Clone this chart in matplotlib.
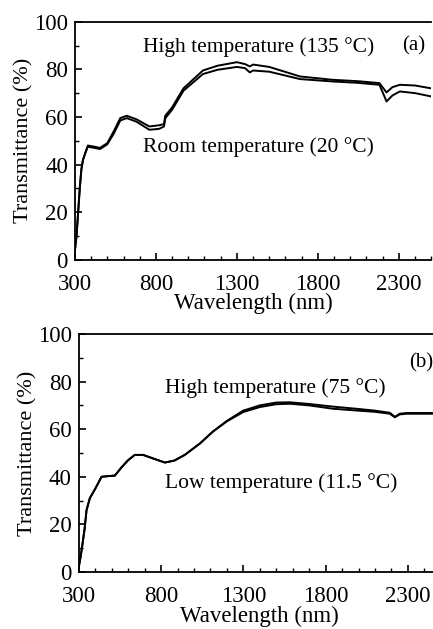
import matplotlib
matplotlib.use("AGG")
import matplotlib.pyplot as plt
from matplotlib.ticker import MultipleLocator

plt.rcParams["font.family"] = ["Liberation Serif", "DejaVu Serif"]

# panel (a): 135 C vs 20 C
wl_a = [300, 310, 320, 330, 340, 350, 365, 380, 420, 455, 500, 540, 580, 620, 680,
        760, 820, 850, 858, 900, 970, 1090, 1180, 1300, 1350, 1380, 1400,
        1500, 1690, 1890, 2050, 2180, 2224, 2260, 2306, 2400, 2500]
high_a = [4, 10, 20, 30, 38, 42, 45, 48, 47.5, 47, 49, 54, 59.5, 60.5, 59,
          56, 56.5, 57, 60.5, 64, 72, 79.5, 81.5, 83, 82.2, 81.2, 82,
          81, 77, 75.6, 75, 74.2, 70.3, 72.5, 73.5, 73.2, 72]
room_a = [4, 10, 20, 30, 38, 42, 45, 47.5, 47, 46.5, 48.5, 53, 58.5, 59.5, 58,
          54.6, 55, 56, 59.5, 63, 71, 78, 79.8, 81, 80.5, 78.7, 79.5,
          79, 75.9, 74.9, 74.3, 73.5, 66.5, 69, 70.7, 70, 68.6]

# panel (b): 75 C vs 11.5 C
wl_b = [300, 310, 320, 335, 347, 367, 400, 438, 480, 519, 560, 600, 640, 691,
        760, 823, 880, 944, 1036, 1115, 1200, 1299, 1400, 1500, 1583, 1700,
        1844, 2000, 2100, 2190, 2221, 2250, 2292, 2400, 2500]
high_b = [2.2, 6, 10.6, 18, 26, 31, 35, 40, 40.3, 40.5, 44, 47, 49.2, 49.2,
          47.5, 46, 46.8, 49.2, 54, 59, 63.5, 67.8, 70, 71.2, 71.3, 70.6,
          69.5, 68.5, 67.8, 66.9, 65.2, 66.5, 66.8, 66.8, 66.8]
low_b = [2.2, 6, 10.6, 18, 26, 31, 35, 40, 40.3, 40.5, 44, 47, 49.2, 49.2,
         47.5, 46, 46.8, 49.2, 54, 59, 63.3, 67.2, 69.3, 70.5, 70.7, 70,
         68.6, 67.8, 67.3, 66.5, 65, 66.2, 66.5, 66.5, 66.5]

fig = plt.figure(figsize=(4.33, 6.29), dpi=100)
ax_a = fig.add_axes([0.173, 0.587, 0.823, 0.3785])
ax_b = fig.add_axes([0.182, 0.0906, 0.836, 0.3784])

for ax in (ax_a, ax_b):
    ax.set_xlim(300, 2500)
    ax.set_ylim(0, 100)
    ax.set_xticks([300, 800, 1300, 1800, 2300])
    ax.set_yticks([0, 20, 40, 60, 80, 100])
    ax.xaxis.set_minor_locator(MultipleLocator(100))
    ax.yaxis.set_minor_locator(MultipleLocator(10))
    ax.tick_params(which="both", direction="in", labelsize=16.5, top=False, right=False)
    ax.tick_params(which="major", length=5, width=1.2)
    ax.tick_params(which="minor", length=3, width=1.0)
    ax.tick_params(axis="x", which="major", pad=10)
    ax.tick_params(axis="y", which="major", pad=5)
    ax.spines["right"].set_visible(False)
    for s in ("left", "bottom", "top"):
        ax.spines[s].set_linewidth(1.3)
    ax.set_xlabel("Wavelength (nm)", fontsize=16.5, labelpad=-1)
    ax.set_ylabel("Transmittance (%)", fontsize=16, labelpad=0)

ax_a.plot(wl_a, high_a, color="black", lw=1.4)
ax_a.plot(wl_a, room_a, color="black", lw=1.4)
ax_a.text(720, 89.5, "High temperature (135 °C)", fontsize=15.5, va="center")
ax_a.text(2318, 89.8, "(a)", fontsize=15, va="center")
ax_a.text(720, 47.5, "Room temperature (20 °C)", fontsize=15.5, va="center")

ax_b.plot(wl_b, high_b, color="black", lw=1.4)
ax_b.plot(wl_b, low_b, color="black", lw=1.4)
ax_b.text(822, 77.2, "High temperature (75 °C)", fontsize=15.5, va="center")
ax_b.text(2308, 87.7, "(b)", fontsize=15, va="center")
ax_b.text(822, 37.3, "Low temperature (11.5 °C)", fontsize=15.5, va="center")

fig.savefig("out.png", dpi=100)
